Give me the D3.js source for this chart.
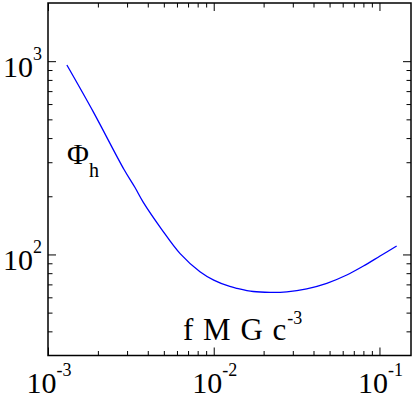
<!DOCTYPE html>
<html>
<head>
<meta charset="utf-8">
<script src="https://cdn.jsdelivr.net/npm/d3@7"></script>
<style>
  body { margin: 0; background: #fff; }
  svg { display: block; }
</style>
</head>
<body>
<script>
// curve: frequency (f M G c^-3) vs Phi_h
const freq = [1.30e-3, 1.88e-3, 2.87e-3, 3.35e-3, 3.76e-3, 4.85e-3, 6.27e-3, 8.26e-3,
  1.0e-2, 1.25e-2, 1.38e-2, 1.73e-2, 2.19e-2, 2.76e-2, 3.64e-2, 4.81e-2,
  6.35e-2, 8.0e-2, 0.1008, 0.127]
const phiH = [955, 545, 276, 222, 186, 135, 101, 81.4,
  73.7, 68.3, 66.8, 64.3, 63.7, 64.1, 66.4, 70.9,
  78.3, 87.1, 98.1, 110.5]

const xMajor = [1e-3, 1e-2, 1e-1]
const xLabelExp = ['-3', '-2', '-1']
const yMajor = [1e2, 1e3]
const yLabelExp = ['2', '3']
const xMinor = [2e-3, 3e-3, 4e-3, 5e-3, 6e-3, 7e-3, 8e-3, 9e-3,
  2e-2, 3e-2, 4e-2, 5e-2, 6e-2, 7e-2, 8e-2, 9e-2]
const yMinor = [40, 50, 60, 70, 80, 90, 200, 300, 400, 500, 600, 700, 800, 900]

const W = 415, H = 398
const L = 48, R = 411, T = 3, B = 355.5
const SERIF = 'Liberation Serif'

const svg = d3.select('body').append('svg')
  .attr('width', W).attr('height', H)

const x = d3.scaleLog().domain([1e-3, 0.155]).range([L, R])
const y = d3.scaleLog().domain([30, 2000]).range([B, T])

// ticks on all four sides, pointing inward
function ticks(axisFn, scale, vals, size, transform) {
  const g = svg.append('g').attr('transform', transform)
    .call(axisFn(scale).tickValues(vals).tickSize(-size).tickFormat(''))
  g.select('.domain').remove()
  g.selectAll('line').attr('stroke', '#000').attr('stroke-width', 1)
}
ticks(d3.axisBottom, x, xMajor, 8, `translate(0,${B})`)
ticks(d3.axisBottom, x, xMinor, 4.5, `translate(0,${B})`)
ticks(d3.axisTop, x, xMajor, 8, `translate(0,${T})`)
ticks(d3.axisTop, x, xMinor, 4.5, `translate(0,${T})`)
ticks(d3.axisLeft, y, yMajor, 8, `translate(${L},0)`)
ticks(d3.axisLeft, y, yMinor, 4.5, `translate(${L},0)`)
ticks(d3.axisRight, y, yMajor, 8, `translate(${R},0)`)
ticks(d3.axisRight, y, yMinor, 4.5, `translate(${R},0)`)

// frame
svg.append('rect')
  .attr('x', L).attr('y', T).attr('width', R - L).attr('height', B - T)
  .attr('fill', 'none').attr('stroke', '#000').attr('stroke-width', 1.5)

// plain text element (no tspans)
function txt(px, py, size, s, ls) {
  const t = svg.append('text')
    .attr('x', px).attr('y', py)
    .attr('font-family', SERIF).attr('font-size', size)
    .text(s)
  if (ls) t.attr('letter-spacing', ls)
  return t
}
function width(t, guess) {
  try { const w = t.node().getComputedTextLength(); return w > 0 ? w : guess } catch (e) { return guess }
}

// "10" + exponent, centred (x axis) or right-aligned (y axis)
function powLabel(px, py, exp, align) {
  const a = txt(0, py, 30, '10')
  const b = txt(0, py - 17, 18, exp)
  const wa = width(a, 30), wb = width(b, 9 * exp.length)
  const x0 = align === 'middle' ? px - (wa + wb) / 2 : px - wa - wb
  a.attr('x', x0)
  b.attr('x', x0 + wa)
}
xMajor.forEach((v, i) => powLabel(x(v) + 1, 393, xLabelExp[i], 'middle'))
yMajor.forEach((v, i) => powLabel(42, y(v) + 16, yLabelExp[i], 'end'))

// curve
const line = d3.line()
  .x((d, i) => x(freq[i]))
  .y(d => y(d))
  .curve(d3.curveCatmullRom.alpha(0.5))
svg.append('path')
  .datum(phiH)
  .attr('d', line)
  .attr('fill', 'none')
  .attr('stroke', '#0000ff')
  .attr('stroke-width', 1.3)

// in-plot labels
const phi = txt(67, 164, 30, 'Φ')
txt(67 + width(phi, 23), 177, 20, 'h')
const fm = txt(183, 340, 31, 'f M G c', 1)
txt(183 + width(fm, 100), 324, 18, '-3')
</script>
</body>
</html>
